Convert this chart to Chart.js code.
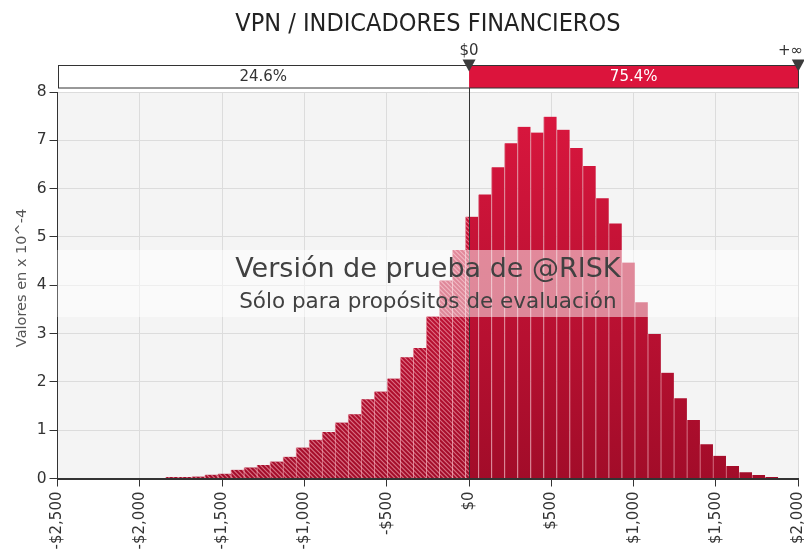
<!DOCTYPE html>
<html>
<head>
<meta charset="utf-8">
<script src="https://cdn.jsdelivr.net/npm/chart.js@4.4.1/dist/chart.umd.min.js"></script>
<style>
    html, body { margin: 0; padding: 0; background: #ffffff; }
    #wrap { width: 804px; height: 555px; }
</style>
</head>
<body>
<div id="wrap"><canvas id="npvChart" width="804" height="555"></canvas></div>
<script>
// histogram bin centres (VPN, $)
const binCenters = [
    -1961.4, -1882.3, -1803.1, -1724.0, -1644.8, -1565.7, -1486.5, -1407.4, -1328.2, -1249.1,
    -1169.9, -1090.8, -1011.6, -932.5, -853.3, -774.2, -695.0, -615.9, -536.7, -457.6,
    -378.4, -299.3, -220.1, -141.0, -61.8, 17.4, 96.5, 175.7, 254.8, 334.0,
    413.1, 492.3, 571.4, 650.6, 729.7, 808.9, 888.0, 967.2, 1046.3, 1125.5,
    1204.6, 1283.8, 1362.9, 1442.1, 1521.2, 1600.4, 1679.5, 1758.7, 1837.8, 1917.0
];
// density, values in x 10^-4
const densities = [
    0.01, 0.01, 0.03, 0.03, 0.04, 0.08, 0.10, 0.18, 0.23, 0.28,
    0.35, 0.45, 0.64, 0.80, 0.96, 1.16, 1.33, 1.64, 1.80, 2.07,
    2.51, 2.70, 3.36, 4.10, 4.73, 5.42, 5.88, 6.44, 6.94, 7.28,
    7.16, 7.49, 7.22, 6.84, 6.47, 5.80, 5.28, 4.47, 3.65, 2.99,
    2.19, 1.66, 1.21, 0.71, 0.47, 0.26, 0.13, 0.07, 0.03, 0.01
];
const xTickValues = [-2500, -2000, -1500, -1000, -500, 0, 500, 1000, 1500, 2000];
const xTickLabels = ['-$2,500', '-$2,000', '-$1,500', '-$1,000', '-$500', '$0', '$500', '$1,000', '$1,500', '$2,000'];
const xMin = -2500;
const xMax = 2000;
const yMax = 8;

// delimiter band above the chart
const splitValue = 0;
const splitLabels = ['$0', '+\u221E'];
const bandPercents = ['24.6%', '75.4%'];

const titleText = 'VPN / INDICADORES FINANCIEROS';
const yTitleText = 'Valores en x 10^-4';
const watermarkLines = ['Versi\u00F3n de prueba de @RISK', 'S\u00F3lo para prop\u00F3sitos de evaluaci\u00F3n'];

const baseFont = "'DejaVu Sans', Verdana, sans-serif";
const titleFont = "'Liberation Sans Narrow', 'DejaVu Sans Condensed', 'Arial Narrow', sans-serif";
const crimson = '#dc143c';

function barFill(context) {
    const chart = context.chart;
    const area = chart.chartArea;
    if (!area) return '#c8102e';
    const g = chart.ctx.createLinearGradient(0, area.bottom, 0, area.top);
    g.addColorStop(0, '#a20c29');
    g.addColorStop(1, '#dc173f');
    return g;
}

// grey plot background
const plotBackground = {
    id: 'plotBackground',
    beforeDraw(chart) {
        const { ctx, chartArea: a } = chart;
        ctx.save();
        ctx.fillStyle = '#f4f4f4';
        ctx.fillRect(a.left, a.top, a.right - a.left, a.bottom - a.top);
        ctx.restore();
    }
};

// hatching of the negative side, $0 line, watermark
const overlays = {
    id: 'overlays',
    afterDatasetsDraw(chart) {
        const { ctx, chartArea: a, scales } = chart;
        const x0 = scales.x.getPixelForValue(splitValue);
        const meta = chart.getDatasetMeta(0);

        // diagonal hatch on the part of the bars left of $0
        ctx.save();
        ctx.beginPath();
        meta.data.forEach(bar => {
            const p = bar.getProps(['x', 'y', 'base', 'width'], true);
            const left = p.x - p.width / 2;
            const right = Math.min(p.x + p.width / 2, x0);
            if (right > left) ctx.rect(left, p.y, right - left, p.base - p.y);
        });
        ctx.clip();
        ctx.strokeStyle = 'rgba(255,190,200,0.55)';
        ctx.lineWidth = 1.2;
        const h = a.bottom - a.top;
        ctx.beginPath();
        for (let s = a.left - h; s < x0; s += 4.5) {
            ctx.moveTo(s, a.top);
            ctx.lineTo(s + h, a.bottom);
        }
        ctx.stroke();
        ctx.restore();

        // axis lines on top of bars
        ctx.save();
        ctx.strokeStyle = '#333333';
        ctx.lineWidth = 1;
        ctx.beginPath();
        ctx.moveTo(a.left, Math.round(a.bottom) + 0.5);
        ctx.lineTo(a.right, Math.round(a.bottom) + 0.5);
        ctx.moveTo(Math.round(x0) + 0.5, 88);
        ctx.lineTo(Math.round(x0) + 0.5, a.bottom);
        ctx.stroke();
        ctx.restore();

        // watermark band + text
        ctx.save();
        ctx.fillStyle = 'rgba(255,255,255,0.5)';
        ctx.fillRect(a.left, 250, a.right - a.left, 67);
        const cx = (a.left + a.right) / 2;
        ctx.fillStyle = '#414141';
        ctx.textAlign = 'center';
        ctx.textBaseline = 'alphabetic';
        ctx.font = '27px ' + baseFont;
        ctx.fillText(watermarkLines[0], cx, 277);
        ctx.font = '21.5px ' + baseFont;
        ctx.fillText(watermarkLines[1], cx, 308);
        ctx.restore();
    },
    afterDraw(chart) {
        const { ctx, chartArea: a, scales } = chart;
        const x0 = scales.x.getPixelForValue(splitValue);
        const cx = (a.left + a.right) / 2;

        ctx.save();
        // title
        ctx.fillStyle = '#222222';
        ctx.textAlign = 'center';
        ctx.textBaseline = 'alphabetic';
        ctx.font = '25px ' + titleFont;
        ctx.fillText(titleText, cx, 31);

        // delimiter band
        const top = 65.5, bandH = 22.5;
        ctx.fillStyle = '#ffffff';
        ctx.fillRect(a.left, top, x0 - a.left, bandH);
        ctx.fillStyle = crimson;
        ctx.fillRect(x0, top, a.right - x0, bandH);
        ctx.strokeStyle = '#333333';
        ctx.lineWidth = 1;
        ctx.strokeRect(Math.round(a.left) + 0.5, top, Math.round(a.right - a.left) - 1, bandH);

        ctx.font = '15px ' + baseFont;
        ctx.textBaseline = 'middle';
        ctx.fillStyle = '#333333';
        ctx.fillText(bandPercents[0], (a.left + x0) / 2, top + bandH / 2 + 0.5);
        ctx.fillStyle = '#ffffff';
        ctx.fillText(bandPercents[1], (x0 + a.right) / 2, top + bandH / 2 + 0.5);

        // markers
        [x0, a.right].forEach((mx, i) => {
            ctx.fillStyle = '#3c3c3c';
            ctx.beginPath();
            ctx.moveTo(mx - 6.5, 59.5);
            ctx.lineTo(mx + 6.5, 59.5);
            ctx.lineTo(mx, 71.5);
            ctx.closePath();
            ctx.fill();
            ctx.fillStyle = '#333333';
            ctx.textBaseline = 'alphabetic';
            ctx.textAlign = i === 0 ? 'center' : 'right';
            ctx.fillText(splitLabels[i], i === 0 ? mx : 803, 55);
        });

        // y axis title
        ctx.translate(22, 278);
        ctx.rotate(-Math.PI / 2);
        ctx.textAlign = 'center';
        ctx.textBaseline = 'middle';
        ctx.fillStyle = '#555555';
        ctx.font = '14.5px ' + baseFont;
        ctx.fillText(yTitleText, 0, 0);
        ctx.restore();
    }
};

const ctx = document.getElementById('npvChart').getContext('2d');
new Chart(ctx, {
    type: 'bar',
    data: {
        datasets: [{
            data: binCenters.map((x, i) => ({ x: x, y: densities[i] })),
            backgroundColor: barFill,
            borderColor: '#dd7e90',
            borderWidth: { left: 1, right: 0, top: 0, bottom: 0 },
            borderSkipped: false,
            barPercentage: 1,
            categoryPercentage: 1
        }]
    },
    options: {
        responsive: false,
        animation: false,
        layout: { padding: { top: 92, right: 5.7, bottom: 0, left: 0 } },
        plugins: {
            legend: { display: false },
            tooltip: { enabled: false },
            title: { display: false }
        },
        scales: {
            x: {
                type: 'linear',
                min: xMin,
                max: xMax,
                offset: false,
                afterBuildTicks: s => { s.ticks = xTickValues.map(v => ({ value: v })); },
                afterFit: s => {
                    s.height = 76.5;
                    s.paddingLeft = 0;
                    s.paddingRight = 0;
                },
                ticks: {
                    autoSkip: false,
                    maxRotation: 90,
                    minRotation: 90,
                    padding: 5,
                    color: '#333333',
                    font: { family: baseFont, size: 15 },
                    callback: (v, i) => xTickLabels[i]
                },
                grid: { offset: false, color: '#dcdcdc', tickColor: '#333333', tickLength: 8 },
                border: { color: '#333333' }
            },
            y: {
                min: 0,
                max: yMax,
                afterFit: s => {
                    s.width = 57.5;
                    s.paddingTop = 0;
                    s.paddingBottom = 0;
                },
                ticks: {
                    stepSize: 1,
                    padding: 3,
                    color: '#333333',
                    font: { family: baseFont, size: 15.5 }
                },
                grid: { color: '#dcdcdc', tickColor: '#333333', tickLength: 8 },
                border: { color: '#333333' }
            }
        }
    },
    plugins: [plotBackground, overlays]
});
</script>
</body>
</html>
